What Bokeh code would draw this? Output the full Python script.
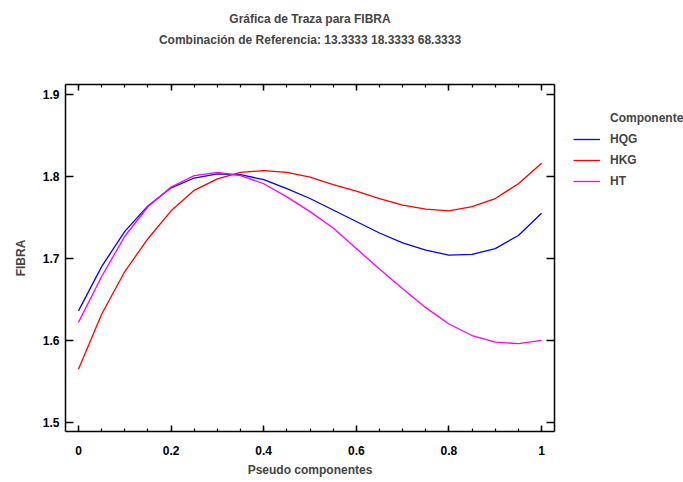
from bokeh.plotting import figure
from bokeh.layouts import row
from bokeh.models import (Range1d, LinearAxis, FixedTicker, Legend, LegendItem, Title)
from bokeh.embed import file_html
from bokeh.resources import INLINE

# ---- data ----
pseudo = [0.00, 0.05, 0.10, 0.15, 0.20, 0.25, 0.30, 0.35, 0.40, 0.45, 0.50,
          0.55, 0.60, 0.65, 0.70, 0.75, 0.80, 0.85, 0.90, 0.95, 1.00]
hqg = [1.636, 1.690, 1.733, 1.764, 1.786, 1.798, 1.803, 1.802, 1.796, 1.785, 1.773,
       1.759, 1.745, 1.731, 1.719, 1.710, 1.704, 1.705, 1.712, 1.728, 1.755]
hkg = [1.565, 1.632, 1.684, 1.724, 1.758, 1.783, 1.797, 1.805, 1.807, 1.805, 1.799,
       1.790, 1.782, 1.773, 1.765, 1.760, 1.758, 1.763, 1.773, 1.791, 1.816]
ht = [1.622, 1.678, 1.727, 1.763, 1.787, 1.801, 1.805, 1.801, 1.791, 1.775, 1.757,
      1.737, 1.712, 1.687, 1.663, 1.640, 1.620, 1.606, 1.598, 1.596, 1.600]
series_names = ["HQG", "HKG", "HT"]
series_colors = ["#0000ff", "#ff0000", "#ff00ff"]
legend_title = "Componente"
x_ticks = [0, 0.2, 0.4, 0.6, 0.8, 1.0]
x_tick_labels = ["0", "0.2", "0.4", "0.6", "0.8", "1"]
y_ticks = [1.5, 1.6, 1.7, 1.8, 1.9]
y_tick_labels = ["1.5", "1.6", "1.7", "1.8", "1.9"]

FONT = "Liberation Sans"

p = figure(width=558, height=482, output_backend="svg", toolbar_location=None,
           x_range=Range1d(-0.028, 1.028), y_range=Range1d(1.489, 1.912),
           min_border_left=65, min_border_right=4, min_border_top=84,
           min_border_bottom=51)
p.xgrid.visible = False
p.ygrid.visible = False
p.outline_line_color = None

t2 = Title(text="Combinación de Referencia: 13.3333 18.3333 68.3333", align="center",
           text_font=FONT, text_font_size="12px", text_font_style="bold", standoff=0)
t1 = Title(text="Gráfica de Traza para FIBRA", align="center",
           text_font=FONT, text_font_size="12px", text_font_style="bold", standoff=10)

def style_axis(ax):
    ax.axis_line_color = "black"
    ax.axis_line_width = 1.5
    ax.major_tick_line_color = "black"
    ax.major_tick_line_width = 1.5
    ax.minor_tick_line_color = "black"
    ax.minor_tick_line_width = 1.2
    ax.major_tick_out = 0
    ax.minor_tick_out = 0
    ax.major_label_text_font = FONT
    ax.major_label_text_font_style = "bold"
    ax.major_label_text_font_size = "12px"
    ax.major_label_text_color = "black"

xb = p.xaxis[0]
xb.ticker = FixedTicker(ticks=x_ticks, minor_ticks=[i * 0.05 for i in range(21)])
xb.major_label_overrides = {v: s for v, s in zip(x_ticks, x_tick_labels)}
style_axis(xb)
xb.major_tick_in = 6
xb.minor_tick_in = 3
xb.major_label_standoff = 14
xb.axis_label = "Pseudo componentes"
xb.axis_label_text_font = FONT
xb.axis_label_text_font_style = "bold"
xb.axis_label_text_font_size = "12px"
xb.axis_label_standoff = 5

yl = p.yaxis[0]
yl.ticker = FixedTicker(ticks=y_ticks, minor_ticks=[])
yl.major_label_overrides = {v: s for v, s in zip(y_ticks, y_tick_labels)}
style_axis(yl)
yl.major_tick_in = 8
yl.minor_tick_in = 0
yl.major_label_standoff = 6
yl.axis_label = "FIBRA"
yl.axis_label_text_font = FONT
yl.axis_label_text_font_style = "bold"
yl.axis_label_text_font_size = "12px"
yl.axis_label_standoff = 12

# top axis: ticks only; blank labels keep room between frame and titles
xt = LinearAxis(ticker=FixedTicker(ticks=x_ticks, minor_ticks=[i * 0.05 for i in range(21)]))
style_axis(xt)
xt.major_label_overrides = {v: " " for v in x_ticks}
xt.major_label_standoff = 21
xt.major_tick_in = 6
xt.minor_tick_in = 3
p.add_layout(xt, "above")
p.add_layout(t2, "above")
p.add_layout(t1, "above")

yr = LinearAxis(ticker=FixedTicker(ticks=y_ticks, minor_ticks=[]))
style_axis(yr)
yr.major_label_overrides = {v: "" for v in y_ticks}
yr.major_label_standoff = 0
yr.major_tick_in = 8
p.add_layout(yr, "right")

for ys, col in zip([hqg, hkg, ht], series_colors):
    p.line(pseudo, ys, line_color=col, line_width=1.3)

# legend panel (separate figure to the right of the chart); its lines lie
# outside this panel's ranges, so only their legend glyphs are seen
q = figure(width=125, height=482, output_backend="svg", toolbar_location=None,
           x_range=Range1d(0, 1), y_range=Range1d(0, 1),
           x_axis_location=None, y_axis_location=None, min_border=0)
q.outline_line_color = None
q.xgrid.visible = False
q.ygrid.visible = False
dummy = q.line(pseudo, hqg, line_alpha=0)
items = [LegendItem(label=legend_title, renderers=[dummy])]
for name, ys, col in zip(series_names, [hqg, hkg, ht], series_colors):
    r = q.line(pseudo, ys, line_color=col, line_width=1.3)
    items.append(LegendItem(label=name, renderers=[r]))

legend = Legend(items=items, location=(15, 240), margin=0, padding=0,
                border_line_color=None, background_fill_alpha=0,
                label_text_font=FONT, label_text_font_style="bold",
                label_text_font_size="12px", label_height=20, glyph_height=20,
                glyph_width=27, label_standoff=10, spacing=1)
q.add_layout(legend, "center")

layout = row(p, q, spacing=0)
open("out.html", "w").write(file_html(layout, INLINE))
